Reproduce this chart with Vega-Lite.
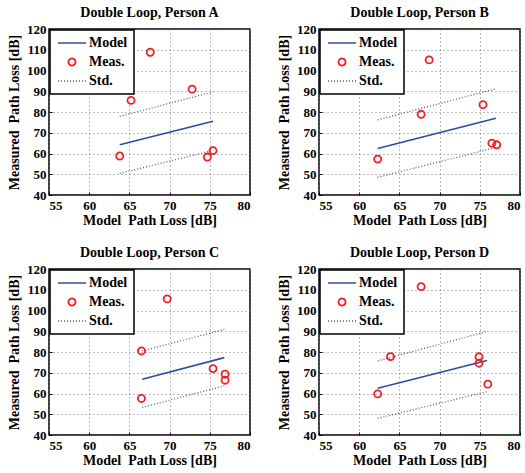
{
  "$schema": "https://vega.github.io/schema/vega-lite/v6.json",
  "padding": {"left": 6, "top": 5, "right": 4, "bottom": 2},
  "datasets": {
    "lines": [
      {"person": "A", "series": "Model", "grp": "m", "x": 63.8, "y": 64.2},
      {"person": "A", "series": "Model", "grp": "m", "x": 75.4, "y": 75.5},
      {"person": "A", "series": "Std.", "grp": "u", "x": 63.8, "y": 77.9},
      {"person": "A", "series": "Std.", "grp": "u", "x": 75.4, "y": 89.7},
      {"person": "A", "series": "Std.", "grp": "l", "x": 63.8, "y": 50.4},
      {"person": "A", "series": "Std.", "grp": "l", "x": 75.4, "y": 61.5},
      {"person": "B", "series": "Model", "grp": "m", "x": 62.3, "y": 62.4},
      {"person": "B", "series": "Model", "grp": "m", "x": 77.0, "y": 77.0},
      {"person": "B", "series": "Std.", "grp": "u", "x": 62.3, "y": 76.2},
      {"person": "B", "series": "Std.", "grp": "u", "x": 77.0, "y": 91.2},
      {"person": "B", "series": "Std.", "grp": "l", "x": 62.3, "y": 48.5},
      {"person": "B", "series": "Std.", "grp": "l", "x": 77.0, "y": 62.9},
      {"person": "C", "series": "Model", "grp": "m", "x": 66.6, "y": 66.9},
      {"person": "C", "series": "Model", "grp": "m", "x": 76.8, "y": 77.3},
      {"person": "C", "series": "Std.", "grp": "u", "x": 66.6, "y": 80.5},
      {"person": "C", "series": "Std.", "grp": "u", "x": 76.8, "y": 90.9},
      {"person": "C", "series": "Std.", "grp": "l", "x": 66.6, "y": 53.3},
      {"person": "C", "series": "Std.", "grp": "l", "x": 76.8, "y": 63.7},
      {"person": "D", "series": "Model", "grp": "m", "x": 62.3, "y": 62.5},
      {"person": "D", "series": "Model", "grp": "m", "x": 75.9, "y": 75.9},
      {"person": "D", "series": "Std.", "grp": "u", "x": 62.3, "y": 75.7},
      {"person": "D", "series": "Std.", "grp": "u", "x": 75.9, "y": 89.9},
      {"person": "D", "series": "Std.", "grp": "l", "x": 62.3, "y": 48.0},
      {"person": "D", "series": "Std.", "grp": "l", "x": 75.9, "y": 60.9}
    ],
    "pts": [
      {"person": "A", "series": "Meas.", "x": 63.8, "y": 58.8},
      {"person": "A", "series": "Meas.", "x": 65.2, "y": 85.6},
      {"person": "A", "series": "Meas.", "x": 67.6, "y": 108.8},
      {"person": "A", "series": "Meas.", "x": 72.8, "y": 91.0},
      {"person": "A", "series": "Meas.", "x": 74.7, "y": 58.3},
      {"person": "A", "series": "Meas.", "x": 75.4, "y": 61.4},
      {"person": "B", "series": "Meas.", "x": 62.3, "y": 57.3},
      {"person": "B", "series": "Meas.", "x": 67.7, "y": 78.9},
      {"person": "B", "series": "Meas.", "x": 68.7, "y": 105.1},
      {"person": "B", "series": "Meas.", "x": 75.4, "y": 83.5},
      {"person": "B", "series": "Meas.", "x": 76.5, "y": 65.0},
      {"person": "B", "series": "Meas.", "x": 77.1, "y": 64.2},
      {"person": "C", "series": "Meas.", "x": 66.5, "y": 80.5},
      {"person": "C", "series": "Meas.", "x": 66.5, "y": 57.6},
      {"person": "C", "series": "Meas.", "x": 69.7, "y": 105.6},
      {"person": "C", "series": "Meas.", "x": 75.4, "y": 72.0},
      {"person": "C", "series": "Meas.", "x": 76.9, "y": 69.3},
      {"person": "C", "series": "Meas.", "x": 76.9, "y": 66.4},
      {"person": "D", "series": "Meas.", "x": 62.3, "y": 59.8},
      {"person": "D", "series": "Meas.", "x": 63.9, "y": 77.8},
      {"person": "D", "series": "Meas.", "x": 67.7, "y": 111.5},
      {"person": "D", "series": "Meas.", "x": 74.9, "y": 77.7},
      {"person": "D", "series": "Meas.", "x": 74.9, "y": 74.6},
      {"person": "D", "series": "Meas.", "x": 76.0, "y": 64.5}
    ]
  },
  "columns": 2,
  "spacing": {"column": 24, "row": 17},
  "resolve": {"scale": {"color": "independent"}, "legend": {"color": "independent"}},
  "concat": [
    {
      "title": "Double Loop, Person A",
      "width": 201, "height": 166,
      "encoding": {
        "x": {"field": "x", "type": "quantitative", "scale": {"domain": [55, 80], "nice": false}, "axis": {"values": [55, 60, 65, 70, 75, 80], "title": "Model\u00a0 Path Loss [dB]"}},
        "y": {"field": "y", "type": "quantitative", "scale": {"domain": [40, 120], "nice": false}, "axis": {"values": [40, 50, 60, 70, 80, 90, 100, 110, 120], "title": "Measured\u00a0 Path Loss [dB]"}},
        "color": {"field": "series", "type": "nominal", "scale": {"domain": ["Model", "Meas.", "Std."], "range": ["#2c4ca6", "#ee1f25", "#555555"]},
          "legend": {"encode": {"symbols": {"update": {
            "x": {"value": 16},
            "shape": {"signal": "datum.value === 'Meas.' ? 'circle' : 'stroke'"},
            "strokeDash": {"signal": "datum.value === 'Std.' ? [1, 2] : [1, 0]"},
            "size": {"signal": "datum.value === 'Meas.' ? 50 : 784"},
            "strokeWidth": {"signal": "datum.value === 'Meas.' ? 1.8 : 1.5"},
            "fill": {"value": "transparent"}
          }}, "labels": {"update": {"x": {"value": 33}}}, "legend": {"update": {"strokeWidth": {"value": 1.5}}}}}
        }
      },
      "layer": [
        {"data": {"name": "lines"}, "transform": [{"filter": "datum.person === 'A' && datum.series === 'Model'"}],
         "mark": {"type": "line", "strokeWidth": 1.6}},
        {"data": {"name": "lines"}, "transform": [{"filter": "datum.person === 'A' && datum.series === 'Std.'"}],
         "mark": {"type": "line", "strokeWidth": 1.2, "strokeDash": [1, 2]},
         "encoding": {"detail": {"field": "grp"}}},
        {"data": {"name": "pts"}, "transform": [{"filter": "datum.person === 'A'"}],
         "mark": {"type": "point", "shape": "circle", "filled": false, "size": 50, "strokeWidth": 1.8, "opacity": 1}}
      ]
    },
    {
      "title": "Double Loop, Person B",
      "width": 201, "height": 166,
      "encoding": {
        "x": {"field": "x", "type": "quantitative", "scale": {"domain": [55, 80], "nice": false}, "axis": {"values": [55, 60, 65, 70, 75, 80], "title": "Model\u00a0 Path Loss [dB]"}},
        "y": {"field": "y", "type": "quantitative", "scale": {"domain": [40, 120], "nice": false}, "axis": {"values": [40, 50, 60, 70, 80, 90, 100, 110, 120], "title": "Measured\u00a0 Path Loss [dB]"}},
        "color": {"field": "series", "type": "nominal", "scale": {"domain": ["Model", "Meas.", "Std."], "range": ["#2c4ca6", "#ee1f25", "#555555"]},
          "legend": {"encode": {"symbols": {"update": {
            "x": {"value": 16},
            "shape": {"signal": "datum.value === 'Meas.' ? 'circle' : 'stroke'"},
            "strokeDash": {"signal": "datum.value === 'Std.' ? [1, 2] : [1, 0]"},
            "size": {"signal": "datum.value === 'Meas.' ? 50 : 784"},
            "strokeWidth": {"signal": "datum.value === 'Meas.' ? 1.8 : 1.5"},
            "fill": {"value": "transparent"}
          }}, "labels": {"update": {"x": {"value": 33}}}, "legend": {"update": {"strokeWidth": {"value": 1.5}}}}}
        }
      },
      "layer": [
        {"data": {"name": "lines"}, "transform": [{"filter": "datum.person === 'B' && datum.series === 'Model'"}],
         "mark": {"type": "line", "strokeWidth": 1.6}},
        {"data": {"name": "lines"}, "transform": [{"filter": "datum.person === 'B' && datum.series === 'Std.'"}],
         "mark": {"type": "line", "strokeWidth": 1.2, "strokeDash": [1, 2]},
         "encoding": {"detail": {"field": "grp"}}},
        {"data": {"name": "pts"}, "transform": [{"filter": "datum.person === 'B'"}],
         "mark": {"type": "point", "shape": "circle", "filled": false, "size": 50, "strokeWidth": 1.8, "opacity": 1}}
      ]
    },
    {
      "title": "Double Loop, Person C",
      "width": 201, "height": 166,
      "encoding": {
        "x": {"field": "x", "type": "quantitative", "scale": {"domain": [55, 80], "nice": false}, "axis": {"values": [55, 60, 65, 70, 75, 80], "title": "Model\u00a0 Path Loss [dB]"}},
        "y": {"field": "y", "type": "quantitative", "scale": {"domain": [40, 120], "nice": false}, "axis": {"values": [40, 50, 60, 70, 80, 90, 100, 110, 120], "title": "Measured\u00a0 Path Loss [dB]"}},
        "color": {"field": "series", "type": "nominal", "scale": {"domain": ["Model", "Meas.", "Std."], "range": ["#2c4ca6", "#ee1f25", "#555555"]},
          "legend": {"encode": {"symbols": {"update": {
            "x": {"value": 16},
            "shape": {"signal": "datum.value === 'Meas.' ? 'circle' : 'stroke'"},
            "strokeDash": {"signal": "datum.value === 'Std.' ? [1, 2] : [1, 0]"},
            "size": {"signal": "datum.value === 'Meas.' ? 50 : 784"},
            "strokeWidth": {"signal": "datum.value === 'Meas.' ? 1.8 : 1.5"},
            "fill": {"value": "transparent"}
          }}, "labels": {"update": {"x": {"value": 33}}}, "legend": {"update": {"strokeWidth": {"value": 1.5}}}}}
        }
      },
      "layer": [
        {"data": {"name": "lines"}, "transform": [{"filter": "datum.person === 'C' && datum.series === 'Model'"}],
         "mark": {"type": "line", "strokeWidth": 1.6}},
        {"data": {"name": "lines"}, "transform": [{"filter": "datum.person === 'C' && datum.series === 'Std.'"}],
         "mark": {"type": "line", "strokeWidth": 1.2, "strokeDash": [1, 2]},
         "encoding": {"detail": {"field": "grp"}}},
        {"data": {"name": "pts"}, "transform": [{"filter": "datum.person === 'C'"}],
         "mark": {"type": "point", "shape": "circle", "filled": false, "size": 50, "strokeWidth": 1.8, "opacity": 1}}
      ]
    },
    {
      "title": "Double Loop, Person D",
      "width": 201, "height": 166,
      "encoding": {
        "x": {"field": "x", "type": "quantitative", "scale": {"domain": [55, 80], "nice": false}, "axis": {"values": [55, 60, 65, 70, 75, 80], "title": "Model\u00a0 Path Loss [dB]"}},
        "y": {"field": "y", "type": "quantitative", "scale": {"domain": [40, 120], "nice": false}, "axis": {"values": [40, 50, 60, 70, 80, 90, 100, 110, 120], "title": "Measured\u00a0 Path Loss [dB]"}},
        "color": {"field": "series", "type": "nominal", "scale": {"domain": ["Model", "Meas.", "Std."], "range": ["#2c4ca6", "#ee1f25", "#555555"]},
          "legend": {"encode": {"symbols": {"update": {
            "x": {"value": 16},
            "shape": {"signal": "datum.value === 'Meas.' ? 'circle' : 'stroke'"},
            "strokeDash": {"signal": "datum.value === 'Std.' ? [1, 2] : [1, 0]"},
            "size": {"signal": "datum.value === 'Meas.' ? 50 : 784"},
            "strokeWidth": {"signal": "datum.value === 'Meas.' ? 1.8 : 1.5"},
            "fill": {"value": "transparent"}
          }}, "labels": {"update": {"x": {"value": 33}}}, "legend": {"update": {"strokeWidth": {"value": 1.5}}}}}
        }
      },
      "layer": [
        {"data": {"name": "lines"}, "transform": [{"filter": "datum.person === 'D' && datum.series === 'Model'"}],
         "mark": {"type": "line", "strokeWidth": 1.6}},
        {"data": {"name": "lines"}, "transform": [{"filter": "datum.person === 'D' && datum.series === 'Std.'"}],
         "mark": {"type": "line", "strokeWidth": 1.2, "strokeDash": [1, 2]},
         "encoding": {"detail": {"field": "grp"}}},
        {"data": {"name": "pts"}, "transform": [{"filter": "datum.person === 'D'"}],
         "mark": {"type": "point", "shape": "circle", "filled": false, "size": 50, "strokeWidth": 1.8, "opacity": 1}}
      ]
    }
  ],
  "config": {
    "font": "Liberation Serif",
    "view": {"stroke": "black", "strokeWidth": 1.5},
    "title": {"font": "Liberation Serif", "fontSize": 14, "fontWeight": "bold", "color": "black", "offset": 3},
    "axis": {
      "labelFont": "Liberation Serif", "labelFontSize": 13, "labelFontWeight": "bold", "labelColor": "black", "labelOverlap": false,
      "titleFont": "Liberation Serif", "titleFontSize": 14, "titleFontWeight": "bold", "titleColor": "black",
      "domain": false, "ticks": true, "tickSize": -3, "tickColor": "black", "tickWidth": 1, "labelPadding": 7,
      "grid": true, "gridColor": "#777777", "gridDash": [1, 3], "gridWidth": 1, "gridOpacity": 1
    },
    "axisX": {"titlePadding": 1},
    "axisY": {"titlePadding": 5, "labelPadding": 6},
    "legend": {
      "orient": "top-left", "offset": 1, "title": null, "padding": 6,
      "strokeColor": "black", "fillColor": "white",
      "labelFont": "Liberation Serif", "labelFontSize": 14, "labelFontWeight": "bold", "labelColor": "black",
      "labelOffset": 6, "rowPadding": 4, "symbolStrokeWidth": 1.5
    }
  }
}
